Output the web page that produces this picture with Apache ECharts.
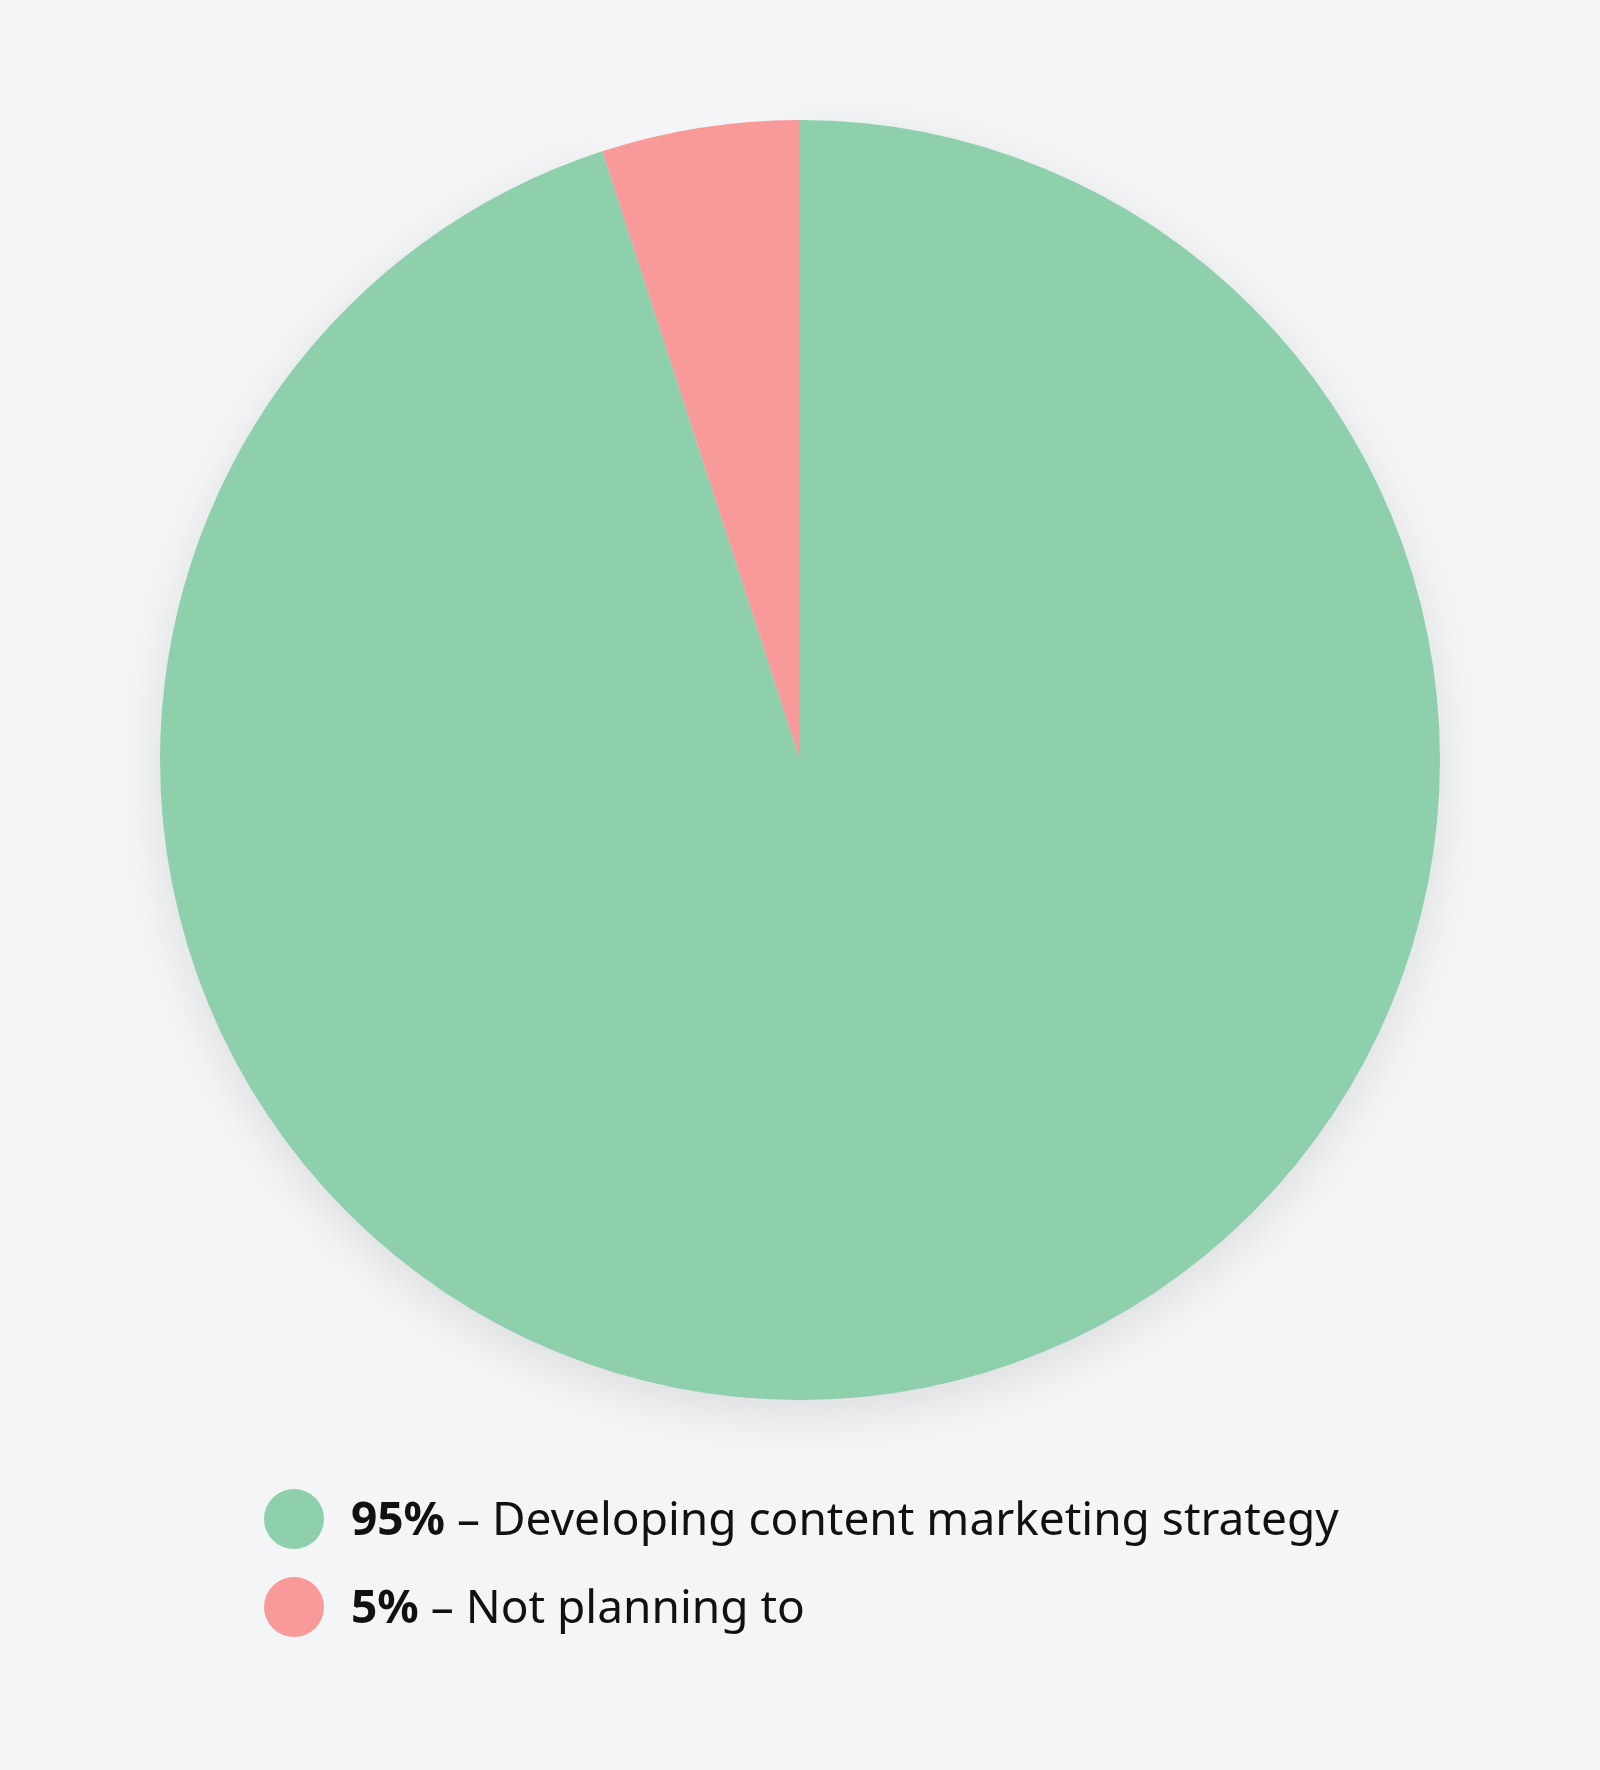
<!DOCTYPE html>
<html>
<head>
<meta charset="utf-8">
<script src="https://cdn.jsdelivr.net/npm/echarts@6/dist/echarts.min.js"></script>
<style>
  html,body{margin:0;padding:0;background:#f4f5f7;}
  #chart{width:1600px;height:1770px;}
</style>
</head>
<body>
<div id="chart"></div>
<script>
//数据
var sliceNames = ['Developing content marketing strategy', 'Not planning to'];
var sliceValues = [95, 5];
var sliceColors = ['#8dd0ab', '#f79a99'];

var myChart = echarts.init(document.getElementById('chart'));

var pieData = [];
for (var i = 0; i < sliceNames.length; i++) {
    var item = {
        name: sliceNames[i],
        value: sliceValues[i],
        itemStyle: { color: sliceColors[i] }
    };
    // 只给第一块加阴影，避免阴影压到其它扇区上
    if (i == 0) {
        item.itemStyle.shadowBlur = 50;
        item.itemStyle.shadowOffsetY = 14;
        item.itemStyle.shadowColor = 'rgba(0,0,0,0.10)';
    }
    pieData.push(item);
}

var option = {
    backgroundColor: '#f4f5f7',
    animation: false,
    legend: {
        orient: 'vertical',
        left: 264,
        top: 1489,
        padding: 0,
        icon: 'circle',
        itemWidth: 60,
        itemHeight: 60,
        itemGap: 28,
        selectedMode: false,
        formatter: function (name) {
            var idx = sliceNames.indexOf(name);
            return '{b|' + sliceValues[idx] + '%}{r| – ' + name + '}';
        },
        textStyle: {
            padding: [6, 0, 0, 22],
            rich: {
                b: { fontFamily: 'Noto Sans', fontSize: 46, fontWeight: 'bold', color: '#111' },
                r: { fontFamily: 'Noto Sans', fontSize: 46, color: '#111' }
            }
        }
    },
    series: [{
        type: 'pie',
        center: [800, 760],
        radius: [0, 640],
        startAngle: 90,
        clockwise: true,
        label: { show: false },
        labelLine: { show: false },
        emphasis: { disabled: true },
        itemStyle: { borderWidth: 0 },
        data: pieData
    }]
};

myChart.setOption(option);
window.onresize = myChart.resize;
</script>
</body>
</html>
